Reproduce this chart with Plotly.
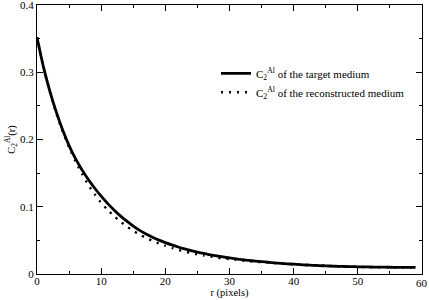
import plotly.graph_objects as go

r = list(range(60))
target = [0.352, 0.308, 0.272, 0.241, 0.214, 0.191, 0.1715, 0.155, 0.1405, 0.1275,
          0.1157, 0.1050, 0.0953, 0.0865, 0.0785, 0.0713, 0.0649, 0.0594, 0.0546, 0.0504,
          0.0467, 0.0433, 0.0402, 0.0374, 0.0349, 0.0326, 0.0305, 0.0286, 0.0269, 0.0253,
          0.0238, 0.0225, 0.0213, 0.0202, 0.0192, 0.0183, 0.01745, 0.01665, 0.0159, 0.0152,
          0.01455, 0.01395, 0.0134, 0.0129, 0.01245, 0.01205, 0.0117, 0.0114, 0.01115, 0.01093,
          0.01073, 0.01055, 0.01039, 0.01025, 0.01013, 0.01003, 0.00994, 0.00986, 0.00979, 0.00973]
recon = [0.352, 0.308, 0.271, 0.239, 0.212, 0.1885, 0.1675, 0.149, 0.1325, 0.1185,
         0.106, 0.0955, 0.0862, 0.0780, 0.0707, 0.0643, 0.0586, 0.0536, 0.0492, 0.0453,
         0.0419, 0.0388, 0.0360, 0.0335, 0.0313, 0.0293, 0.0275, 0.0259, 0.0245, 0.0232,
         0.0220, 0.0210, 0.0200, 0.0191, 0.0183, 0.0176, 0.0169, 0.0162, 0.0156, 0.0150,
         0.0144, 0.0139, 0.0134, 0.0129, 0.0125, 0.0121, 0.0117, 0.0114, 0.0111, 0.0108,
         0.0106, 0.0104, 0.0102, 0.0100, 0.0099, 0.0098, 0.0097, 0.0096, 0.0095, 0.0095]

x_ticks = [0, 10, 20, 30, 40, 50, 60]
x_tick_text = ["0", "10", "20", "30", "40", "50", ""]
x_last_label = "60"
y_ticks = [0, 0.1, 0.2, 0.3, 0.4]
y_tick_text = ["0", "0.1", "0.2", "0.3", "0.4"]

font_family = "'Liberation Serif', 'Times New Roman', Times, serif"

fig = go.Figure()
fig.add_trace(go.Scatter(x=r, y=target, mode="lines",
                         line=dict(color="black", width=2.8, shape="spline", smoothing=0.6),
                         name="C<sub>2</sub><sup>Al</sup> of the target medium"))
fig.add_trace(go.Scatter(x=r, y=recon, mode="lines",
                         line=dict(color="black", width=2.4, dash="2px,6px", shape="spline", smoothing=0.6),
                         name="C<sub>2</sub><sup>Al</sup> of the reconstructed medium"))

axis_common = dict(showline=True, linecolor="black", linewidth=1.3, mirror="ticks",
                   ticks="inside", ticklen=6, tickwidth=1, tickcolor="black",
                   showgrid=False, zeroline=False, automargin=False,
                   ticklabeloverflow="allow",
                   tickfont=dict(family=font_family, size=11, color="black"))

fig.update_xaxes(range=[0, 60], tickvals=x_ticks, ticktext=x_tick_text,
                 ticklabelstandoff=-3,
                 minor=dict(ticks="inside", ticklen=3, dtick=5, tickcolor="black", tickwidth=1),
                 title=dict(text="r (pixels)", font=dict(family=font_family, size=10.5, color="black"),
                            standoff=0),
                 **axis_common)
fig.update_yaxes(range=[0, 0.4], tickvals=y_ticks, ticktext=y_tick_text,
                 minor=dict(ticks="inside", ticklen=3, dtick=0.05, tickcolor="black", tickwidth=1),
                 title=dict(text="C<sub>2</sub><sup>Al</sup>(r)",
                            font=dict(family=font_family, size=10.5, color="black"), standoff=2),
                 **axis_common)

fig.add_annotation(x=x_ticks[-1], xref="x", y=0, yref="paper", text=x_last_label,
                   showarrow=False, xanchor="center", yanchor="top", yshift=-1,
                   font=dict(family=font_family, size=11, color="black"))

fig.update_layout(
    width=429, height=300,
    margin=dict(l=37, r=7, t=5, b=26),
    paper_bgcolor="white", plot_bgcolor="white",
    showlegend=True,
    legend=dict(x=0.465, y=0.80, xanchor="left", yanchor="top",
                bgcolor="rgba(0,0,0,0)", borderwidth=0,
                font=dict(family=font_family, size=11, color="black"),
                tracegroupgap=0),
)

fig.write_html("out.html", config={"displayModeBar": False},
               post_script="document.body.style.margin='0';")
